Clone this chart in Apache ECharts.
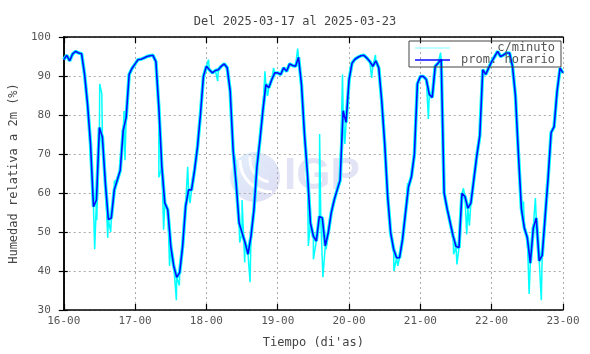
<!DOCTYPE html>
<html>
<head>
<meta charset="utf-8">
<script src="https://cdn.jsdelivr.net/npm/echarts@6/dist/echarts.min.js"></script>
<style>
html, body { margin: 0; padding: 0; background: #fff; }
#chart { width: 590px; height: 354px; }
</style>
</head>
<body>
<div id="chart"></div>
<script>
// etiquetas del eje x (un tick por dia)
var dayLabels = ['16-00', '17-00', '18-00', '19-00', '20-00', '21-00', '22-00', '23-00'];

// promedio horario, 24 valores por dia (%)
var hum16 = [94.2, 95.3, 93.9, 95.7, 96.3, 95.9, 95.7, 90.4, 82.8, 72.6, 56.5, 58.2, 76.8, 74.3, 62.5, 53.2, 53.6, 60.8, 63.3, 65.8, 76.0, 79.4, 90.4, 92.0];
var hum17 = [93.1, 94.2, 94.3, 94.6, 95.0, 95.2, 95.3, 93.7, 81.9, 66.7, 57.4, 55.7, 46.4, 41.3, 38.4, 39.6, 46.4, 56.6, 60.8, 60.8, 65.8, 71.8, 80.2, 89.9];
var hum18 = [92.5, 91.6, 90.8, 91.4, 91.6, 92.5, 93.1, 92.1, 86.1, 70.9, 62.5, 52.3, 49.8, 47.3, 44.3, 48.9, 55.7, 66.7, 73.5, 81.1, 87.8, 87.0, 89.1, 90.8];
var hum19 = [90.8, 90.4, 92.1, 91.2, 93.1, 92.7, 92.5, 94.8, 87.8, 75.1, 65.0, 52.3, 48.9, 47.7, 54.0, 53.6, 46.4, 49.8, 54.9, 58.2, 60.8, 63.3, 81.1, 78.1];
var hum20 = [89.0, 93.3, 94.3, 94.8, 95.2, 95.3, 94.6, 93.7, 92.5, 93.9, 92.1, 83.6, 72.6, 59.1, 49.8, 45.6, 43.4, 43.4, 48.1, 54.9, 61.6, 64.2, 70.0, 88.0];
var hum21 = [89.9, 89.9, 89.1, 85.3, 84.5, 92.5, 93.3, 94.3, 60.0, 56.0, 52.5, 49.0, 46.3, 46.0, 59.9, 59.1, 56.1, 57.4, 63.5, 69.6, 74.7, 91.6, 90.4, 92.1];
var hum22 = [93.7, 95.0, 96.3, 95.0, 95.4, 95.9, 95.9, 92.5, 84.9, 70.0, 56.0, 51.0, 48.5, 42.0, 51.0, 53.6, 42.6, 44.0, 54.0, 64.0, 75.5, 77.0, 86.0, 92.0];
var humEnd = 90.8;   // valor a las 23-00

// picos visibles de la serie por minuto: [horas desde 16-00, %]
var minuteSpikes = [
    [10.4, 45.6], [11.1, 53.0], [12.1, 88.0], [12.8, 85.5], [14.8, 48.5], [15.8, 50.0], [17.0, 63.0], [20.3, 81.0], [20.6, 68.4],
    [32.0, 64.0], [33.6, 50.6], [35.6, 41.3], [36.7, 42.0], [37.9, 32.5], [38.9, 36.3], [41.7, 66.7], [42.5, 57.4],
    [48.7, 94.2], [51.8, 88.7], [57.8, 68.4], [59.2, 47.3], [60.0, 58.2], [60.9, 42.2], [62.7, 37.1], [63.6, 53.2], [67.7, 91.2], [68.6, 84.9], [70.6, 92.1],
    [78.7, 97.0], [82.3, 46.4], [84.0, 43.0], [86.1, 75.1], [86.5, 53.2], [87.2, 38.4], [88.3, 45.6], [93.8, 90.4], [94.6, 72.6],
    [96.4, 89.5], [103.6, 89.5], [104.9, 95.4], [108.2, 70.9], [111.1, 40.0], [112.4, 41.3], [115.7, 62.5],
    [122.7, 79.0], [126.8, 96.0], [131.2, 44.3], [132.3, 41.7], [134.5, 61.2], [135.6, 49.4], [136.5, 51.6],
    [154.7, 57.8], [156.6, 34.1], [158.7, 58.7], [160.7, 32.5], [162.9, 62.0]
];

var days = [hum16, hum17, hum18, hum19, hum20, hum21, hum22];
var hourly = [];
for (var d = 0; d < days.length; d++) {
    for (var i = 0; i < days[d].length; i++) {
        hourly.push([d * 24 + i, days[d][i]]);
    }
}
hourly.push([168, humEnd]);

var perMinute = hourly.concat(minuteSpikes).sort(function (a, b) { return a[0] - b[0]; });

var mono = 'DejaVu Sans Mono, Liberation Mono, monospace';
var myChart = echarts.init(document.getElementById('chart'), null, { renderer: 'canvas' });

var option = {
    animation: false,
    title: {
        text: 'Del 2025-03-17 al 2025-03-23',
        left: 'center',
        top: 11,
        textStyle: { fontFamily: mono, fontSize: 12, fontWeight: 'normal', color: '#444' }
    },
    legend: {
        data: [
            { name: 'c/minuto', itemStyle: { color: '#a8ffff' } },
            { name: 'prom. horario', itemStyle: { color: '#0a0aff' } }
        ],
        orient: 'vertical',
        left: 409,
        top: 41,
        padding: [1, 6, 1, 6],
        itemGap: 0,
        itemWidth: 35,
        itemHeight: 1.5,
        icon: 'rect',
        borderColor: '#444',
        borderWidth: 1,
        formatter: function (name) { return '{t|' + name + '}'; },
        textStyle: {
            rich: { t: { width: 100, align: 'right', fontFamily: mono, fontSize: 12, lineHeight: 12, color: '#555' } }
        }
    },
    grid: { left: 55, right: 27, top: 37, bottom: 41 },
    xAxis: [{
        type: 'value',
        min: 0, max: 168, interval: 24,
        name: "Tiempo (di'as)",
        nameLocation: 'middle',
        nameGap: 27,
        nameTextStyle: { fontFamily: mono, fontSize: 12, color: '#444' },
        axisLine: { lineStyle: { color: '#000', width: 1.5 } },
        axisTick: { inside: true, length: 6, lineStyle: { color: '#000', width: 1.2 } },
        axisLabel: {
            margin: 6, fontFamily: mono, fontSize: 11, color: '#555',
            formatter: function (v) { return dayLabels[Math.round(v / 24)]; }
        },
        splitLine: { show: true, lineStyle: { color: '#aaa', type: [2, 3], width: 1 } }
    }, {
        type: 'value', position: 'top',
        min: 0, max: 168, interval: 24,
        axisLine: { lineStyle: { color: '#000', width: 1.5 } },
        axisTick: { inside: true, length: 6, lineStyle: { color: '#000', width: 1.2 } },
        axisLabel: { show: false },
        splitLine: { show: false }
    }],
    yAxis: [{
        type: 'value',
        min: 30, max: 100, interval: 10,
        name: 'Humedad relativa a 2m (%)',
        nameLocation: 'middle',
        nameGap: 40,
        nameTextStyle: { fontFamily: mono, fontSize: 12, color: '#444' },
        axisLine: { show: true, lineStyle: { color: '#000', width: 1.5 } },
        axisTick: { show: true, inside: true, length: 4, lineStyle: { color: '#000', width: 1.2 } },
        axisLabel: { margin: 13, fontFamily: mono, fontSize: 11, color: '#555' },
        splitLine: { show: true, lineStyle: { color: '#aaa', type: [2, 3], width: 1 } }
    }, {
        type: 'value', position: 'right',
        min: 30, max: 100, interval: 10,
        axisLine: { show: true, lineStyle: { color: '#000', width: 1.5 } },
        axisTick: { show: true, inside: true, length: 5, lineStyle: { color: '#000', width: 1.2 } },
        axisLabel: { show: false },
        splitLine: { show: false }
    }],
    graphic: [{
        type: 'group',
        z: -1,
        children: [{
            type: 'circle',
            shape: { cx: 255, cy: 177, r: 25 },
            style: {
                fill: new echarts.graphic.LinearGradient(0, 0, 1, 1, [
                    { offset: 0, color: '#e2f0fc' },
                    { offset: 1, color: '#dedcf3' }
                ])
            }
        }, {
            type: 'arc',
            shape: { cx: 272, cy: 160, r: 22, startAngle: Math.PI * 0.55, endAngle: Math.PI * 1.05 },
            style: { stroke: '#ffffff', lineWidth: 3, fill: null }
        }, {
            type: 'arc',
            shape: { cx: 272, cy: 160, r: 32, startAngle: Math.PI * 0.5, endAngle: Math.PI * 1.0 },
            style: { stroke: '#ffffff', lineWidth: 3, fill: null }
        }, {
            type: 'text',
            style: {
                x: 284, y: 177, text: 'IGP',
                font: 'bold 44px "Liberation Sans", Arial, sans-serif',
                fill: '#e3e3f6', verticalAlign: 'middle'
            }
        }]
    }],
    series: [{
        name: 'c/minuto',
        type: 'line',
        data: hourly,
        showSymbol: false,
        lineStyle: { color: '#00ffff', width: 3.5 },
        itemStyle: { color: '#00ffff' },
        z: 1
    }, {
        name: 'c/minuto',
        type: 'line',
        data: perMinute,
        showSymbol: false,
        lineStyle: { color: '#00ffff', width: 1.5 },
        itemStyle: { color: '#00ffff' },
        z: 2
    }, {
        name: 'prom. horario',
        type: 'line',
        data: hourly,
        showSymbol: false,
        lineStyle: { color: '#0a0aff', width: 1.6 },
        itemStyle: { color: '#0a0aff' },
        z: 3
    }]
};

if (option && typeof option === 'object') {
    myChart.setOption(option);
}
</script>
</body>
</html>
